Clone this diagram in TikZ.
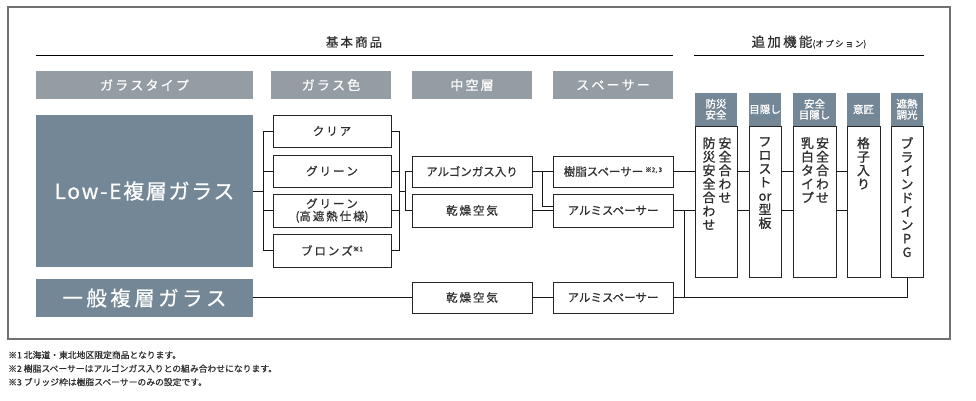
\documentclass[tikz,border=0pt]{standalone}
\usepackage{fontspec}
\setmainfont{Noto Sans CJK JP}[FakeBold=0.6]
\newfontfamily\heavyjp{Noto Sans CJK JP}[FakeBold=1.2]
\definecolor{hdr}{HTML}{959DA4}
\definecolor{slate}{HTML}{748796}
\definecolor{txt}{HTML}{2E2E2E}
\definecolor{framec}{HTML}{707070}
\begin{document}
\begin{tikzpicture}[x=1pt,y=-1pt,
  hdrbox/.style={fill=hdr, text=white, minimum height=28, inner sep=0, font=\fontsize{13}{15}\selectfont},
  bigbox/.style={fill=slate, text=white, inner sep=0, minimum width=217},
  item/.style={draw=black!85, line width=0.9pt, fill=white, inner sep=0, text=txt, font=\fontsize{11.5}{12.5}\selectfont, align=center},
  opthdr/.style={fill=slate, text=white, inner sep=0, align=center, font=\heavyjp\fontsize{10.5}{11}\selectfont, minimum height=33},
  vtext/.style={inner sep=0, align=center, text=txt, font=\heavyjp\fontsize{12.8}{13.6}\selectfont, anchor=north},
  conn/.style={draw=black!90, line width=0.8pt},
  note/.style={inner sep=0, anchor=west, text=txt, font=\fontsize{8.8}{10}\selectfont}]
\useasboundingbox (0,0) rectangle (976,400);
\draw[framec, line width=1.2pt] (8,7) rectangle (950,339);
% titles
\node[text=txt, font=\fontsize{12.5}{14}\selectfont, inner sep=0] (t1) at (354,42) {基\,本\,商\,品};
\draw[line width=0.9pt] (36,55) -- (673,55);
\node[text=txt, inner sep=0] (t2) at (809,42) {\fontsize{13.5}{14}\selectfont 追\,加\,機\,能\fontsize{8.5}{10}\selectfont (オ\,プ\,シ\,ョ\,ン)};
\draw[line width=0.9pt] (694,55) -- (924,55);
% column headers
\node[hdrbox, minimum width=217] (h1) at (144.5,85) {ガ\,ラ\,ス\,タ\,イ\,プ};
\node[hdrbox, minimum width=120] (h2) at (331,85) {ガ\,ラ\,ス\,色};
\node[hdrbox, minimum width=120] (h3) at (472,85) {中\,空\,層};
\node[hdrbox, minimum width=120] (h4) at (613,85) {ス\,ペ\,ー\,サ\,ー};
% glass types
\node[bigbox, minimum height=152, font=\fontsize{21}{22}\selectfont\addfontfeature{LetterSpace=8}] (lowE) at (144.5,191) {Low-E複層ガラス};
\node[bigbox, minimum height=38, font=\fontsize{20.5}{22}\selectfont] (ippan) at (144.5,298) {一\,般\,複\,層\,ガ\,ラ\,ス};
% glass colours
\node[item, minimum width=118, minimum height=32] (clear) at (332,131) {ク\,リ\,ア};
\node[item, minimum width=118, minimum height=32] (green) at (332,171) {グ\,リ\,ー\,ン};
\node[item, minimum width=118, minimum height=33] (greenh) at (332,210.5) {グ\,リ\,ー\,ン\\(高\,遮\,熱\,仕\,様)};
\node[item, minimum width=118, minimum height=33] (bronze) at (332,250.5) {ブ\,ロ\,ン\,ズ\raisebox{0.6ex}{\fontsize{6.5}{7}\selectfont ※1}};
% hollow layer
\node[item, minimum width=120, minimum height=31] (argon) at (472,171.5) {アルゴンガス入り};
\node[item, minimum width=120, minimum height=33] (kanso) at (472,210.5) {乾\,燥\,空\,気};
\node[item, minimum width=120, minimum height=31] (kanso2) at (472,297.5) {乾\,燥\,空\,気};
% spacers
\node[item, minimum width=120, minimum height=31] (jushi) at (613,171.5) {樹脂スペーサー\,\raisebox{0.6ex}{\fontsize{6.5}{7}\selectfont ※2, 3}};
\node[item, minimum width=120, minimum height=33] (alumi) at (613,210.5) {アルミスペーサー};
\node[item, minimum width=120, minimum height=31] (alumi2) at (613,297.5) {アルミスペーサー};
% option columns
\node[item, minimum width=42, minimum height=151, anchor=north] (o1) at (716,126) {};
\node[item, minimum width=32, minimum height=151, anchor=north] (o2) at (765,126) {};
\node[item, minimum width=43, minimum height=151, anchor=north] (o3) at (814.5,126) {};
\node[item, minimum width=33, minimum height=151, anchor=north] (o4) at (863.5,126) {};
\node[item, minimum width=32, minimum height=151, anchor=north] (o5) at (907,126) {};
\node[opthdr, minimum width=42, anchor=south] (p1) at (716,126) {防災\\安全};
\node[opthdr, minimum width=32, anchor=south] (p2) at (765,126) {目隠し};
\node[opthdr, minimum width=43, anchor=south] (p3) at (814.5,126) {安全\\目隠し};
\node[opthdr, minimum width=33, anchor=south] (p4) at (863.5,126) {意匠};
\node[opthdr, minimum width=32, anchor=south] (p5) at (907,126) {遮熱\\調光};
\node[vtext] (v1a) at (725,137) {安\\全\\合\\わ\\せ};
\node[vtext] (v1b) at (709,137) {防\\災\\安\\全\\合\\わ\\せ};
\node[vtext] (v2) at (765,137) {フ\\ロ\\ス\\ト\\or\\型\\板};
\node[vtext] (v3a) at (822.5,137) {安\\全\\合\\わ\\せ};
\node[vtext] (v3b) at (807.5,137) {乳\\白\\タ\\イ\\プ};
\node[vtext] (v4) at (863.5,137) {格\\子\\入\\り};
\node[vtext] (v5) at (907,137) {ブ\\ラ\\イ\\ン\\ド\\イ\\ン\\P\\G};
% connectors: glass type -> colours
\coordinate (lb) at (263,191);
\draw[conn] (lowE.east |- lb) -- (lb);
\draw[conn] (lb |- clear.west) -- (lb |- bronze.west);
\foreach \n in {clear,green,greenh,bronze} \draw[conn] (lb |- \n.west) -- (\n.west);
\coordinate (rb) at (399,191);
\draw[conn] (rb |- clear.east) -- (rb |- bronze.east);
\foreach \n in {clear,green,greenh,bronze} \draw[conn] (\n.east) -- (rb |- \n.east);
\coordinate (rb2) at (405,191);
\draw[conn] (rb) -- (rb2);
\draw[conn] (rb2 |- argon.west) -- (rb2 |- kanso.west);
\draw[conn] (rb2 |- argon.west) -- (argon.west);
\draw[conn] (rb2 |- kanso.west) -- (kanso.west);
% hollow -> spacer
\draw[conn] (argon.east) -- (jushi.west);
\coordinate (aj) at (542,206);
\draw[conn] (aj |- argon.east) -- (aj) -- (alumi.west |- aj);
\draw[conn] (kanso.east) -- (alumi.west);
\draw[conn] (ippan.east |- kanso2.west) -- (kanso2.west);
\draw[conn] (kanso2.east) -- (alumi2.west);
% spacer -> options
\draw[conn] (jushi.east) -- (o1.west |- jushi.east);
\draw[conn] (alumi.east) -- (o1.west |- alumi.east);
\coordinate (vj) at (684,250);
\draw[conn] (vj |- alumi.east) -- (vj |- alumi2.east);
\draw[conn] (alumi2.east) -- (o5.south |- alumi2.east) -- (o5.south);
\foreach \a/\b in {o1/o2,o2/o3,o3/o4} {
  \draw[conn] (\a.east |- jushi.east) -- (\b.west |- jushi.east);
  \draw[conn] (\a.east |- alumi.east) -- (\b.west |- alumi.east);
}
% notes
\node[note] (n1) at (8,355) {※1 北海道・東北地区限定商品となります。};
\node[note] (n2) at (8,368.5) {※2 樹脂スペーサーはアルゴンガス入りとの組み合わせになります。};
\node[note] (n3) at (8,382) {※3 ブリッジ枠は樹脂スペーサーのみの設定です。};
\end{tikzpicture}
\end{document}
